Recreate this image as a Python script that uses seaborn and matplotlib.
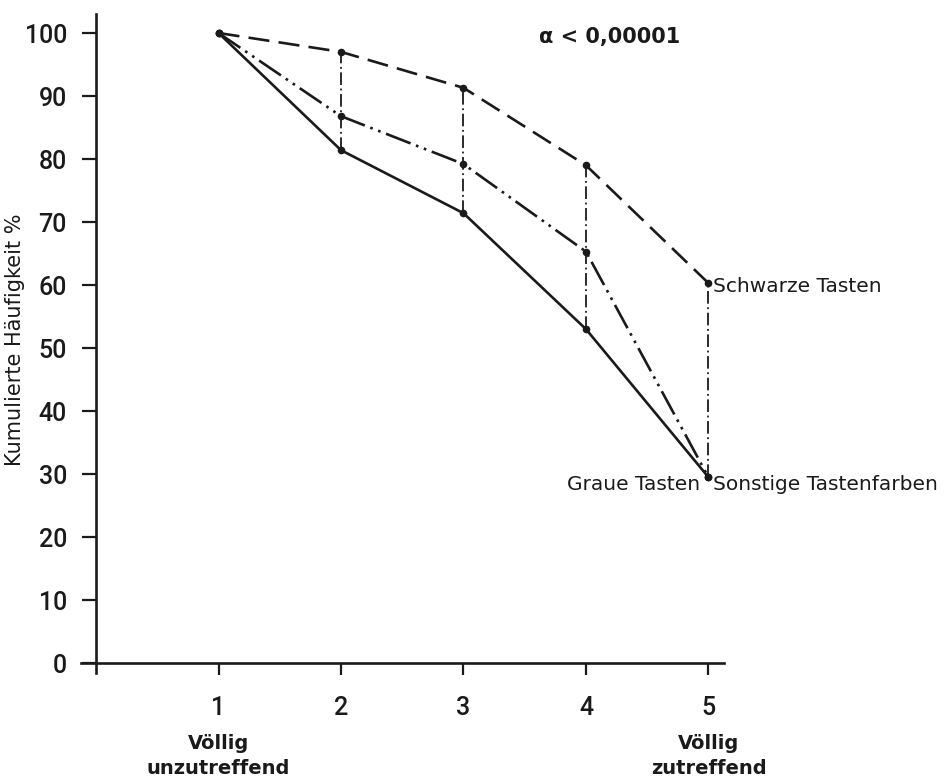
import matplotlib
matplotlib.use("Agg")
import matplotlib.pyplot as plt
import seaborn as sns
import pandas as pd

# ---------------- data ----------------
stufen = [1, 2, 3, 4, 5]
schwarze = [100, 97, 91.3, 79, 60.3]
sonstige = [100, 86.8, 79.2, 65.3, 29.5]
graue = [100, 81.4, 71.4, 53, 29.5]
y_ticks = [0, 10, 20, 30, 40, 50, 60, 70, 80, 90, 100]
x_ticks = [1, 2, 3, 4, 5]
serien = ["Schwarze Tasten", "Sonstige Tastenfarben", "Graue Tasten"]

df = pd.DataFrame({
    "Stufe": stufen * 3,
    "Wert": schwarze + sonstige + graue,
    "Serie": [serien[0]] * 5 + [serien[1]] * 5 + [serien[2]] * 5,
})

# ---------------- style ----------------
sns.set_style("ticks")
plt.rcParams["font.family"] = ["DejaVu Sans"]
INK = "#1a1a1a"
NARROW = ["DejaVu Sans Condensed", "Roboto", "DejaVu Sans"]

fig = plt.figure(figsize=(9.47, 7.79), dpi=100)
fig.patch.set_facecolor("white")
ax = fig.add_axes([0.0859, 0.1367, 0.679, 0.8452])
ax.set_facecolor("white")

styles = {
    "Schwarze Tasten": (0, (8, 3.5)),
    "Sonstige Tastenfarben": (0, (10, 2.2, 1, 2.2, 1, 2.2)),
    "Graue Tasten": "-",
}
for s in serien:
    sub = df[df["Serie"] == s]
    sns.lineplot(data=sub, x="Stufe", y="Wert", ax=ax, color=INK,
                 linewidth=1.9, linestyle=styles[s], marker="o",
                 markersize=5.5, markeredgewidth=0, markerfacecolor=INK,
                 legend=False, zorder=3)

# vertical connectors between the series at each step
wide = df.pivot(index="Stufe", columns="Serie", values="Wert")
wide = wide.loc[wide.index > 1]
ax.vlines(wide.index, wide.min(axis=1), wide.max(axis=1), color=INK,
          linewidth=1.3, linestyle=(0, (7, 2, 1, 2)), zorder=2)

# ---------------- axes ----------------
ax.set_xlim(-0.12, 5.13)
ax.set_ylim(-1.5, 103)
for sp in ["top", "right"]:
    ax.spines[sp].set_visible(False)
ax.spines["left"].set_position(("data", 0))
ax.spines["bottom"].set_position(("data", 0))
ax.spines["left"].set_bounds(-1.5, 103)
ax.spines["bottom"].set_bounds(-0.12, 5.13)
for sp in ["left", "bottom"]:
    ax.spines[sp].set_linewidth(1.9)
    ax.spines[sp].set_color(INK)

ax.set_yticks(y_ticks)
ax.set_yticklabels([str(v) for v in y_ticks], family=NARROW, fontsize=18,
                   fontweight="medium")
ax.set_xticks(x_ticks)
ax.set_xticklabels([str(v) for v in x_ticks], family=NARROW, fontsize=18,
                   fontweight="medium")
ax.tick_params(axis="y", direction="out", length=10, width=1.6, pad=11,
               colors=INK)
ax.tick_params(axis="x", direction="out", length=8.6, width=1.6, pad=15,
               colors=INK)

ax.set_xlabel("")
ax.set_ylabel("Kumulierte Häufigkeit %", fontsize=15, color=INK)
ax.yaxis.set_label_coords(-0.088, 0.505)

# x-axis end labels
for xv, txt in [(x_ticks[0], "unzutreffend"), (x_ticks[-1], "zutreffend")]:
    ax.annotate("Völlig", xy=(xv, 0), xycoords="data",
                xytext=(0, -86), textcoords="offset pixels",
                ha="center", va="baseline", fontsize=14, fontweight="bold",
                color=INK, annotation_clip=False)
    ax.annotate(txt, xy=(xv, 0), xycoords="data",
                xytext=(0, -111), textcoords="offset pixels",
                ha="center", va="baseline", fontsize=14, fontweight="bold",
                color=INK, annotation_clip=False)

# series labels
ax.annotate(serien[0], xy=(stufen[-1], schwarze[-1]), xytext=(5, -3),
            textcoords="offset pixels", ha="left", va="center",
            fontsize=14.5, color=INK, annotation_clip=False)
ax.annotate(serien[1], xy=(stufen[-1], sonstige[-1]), xytext=(5, -7),
            textcoords="offset pixels", ha="left", va="center",
            fontsize=14.5, color=INK, annotation_clip=False)
ax.annotate(serien[2], xy=(stufen[-1], graue[-1]), xytext=(-8, -7),
            textcoords="offset pixels", ha="right", va="center",
            fontsize=14.5, color=INK, annotation_clip=False)

ax.text(3.62, 99.3, "α < 0,00001", fontsize=15, color=INK, ha="left",
        va="center", fontweight="bold")

fig.savefig("out.png", dpi=100, facecolor="white")
